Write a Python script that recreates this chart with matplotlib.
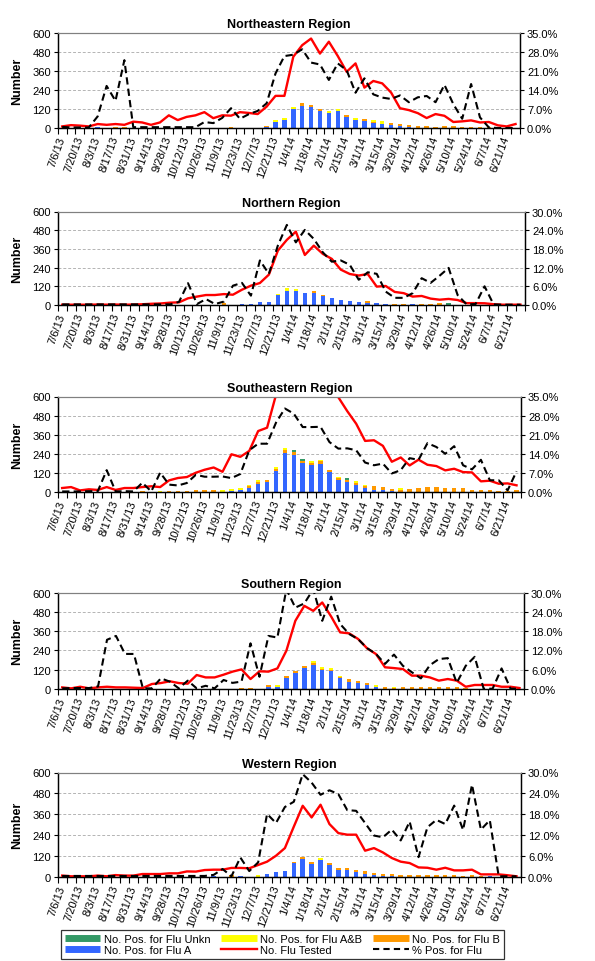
import numpy as np
import matplotlib
matplotlib.use("Agg")
import matplotlib.pyplot as plt
from matplotlib.lines import Line2D
from matplotlib.ticker import FuncFormatter

plt.rcParams['font.family'] = ['Liberation Sans', 'DejaVu Sans']

# week labels shown on the x axis (every second week, 52 weeks in all)
tick_labels = ["7/6/13", "7/20/13", "8/3/13", "8/17/13", "8/31/13", "9/14/13", "9/28/13",
               "10/12/13", "10/26/13", "11/9/13", "11/23/13", "12/7/13", "12/21/13",
               "1/4/14", "1/18/14", "2/1/14", "2/15/14", "3/1/14", "3/15/14", "3/29/14",
               "4/12/14", "4/26/14", "5/10/14", "5/24/14", "6/7/14", "6/21/14"]
n_weeks = 52

# Northeastern
ne_flu_a = [0, 0, 0, 0, 5, 0, 0, 0, 0, 0, 0, 0, 0, 0, 0, 0, 3, 3, 0, 0, 3, 3, 3, 5, 35,
            50, 120, 142, 131, 108, 94, 108, 69, 52, 46, 33, 27, 21, 12, 8, 0, 0, 0, 0, 0,
            0, 0, 0, 0, 0, 0, 0]
ne_flu_b = [0, 0, 0, 0, 0, 0, 6, 8, 0, 0, 0, 0, 0, 0, 0, 0, 0, 0, 0, 8, 0, 0, 0, 10, 0,
            0, 0, 15, 13, 12, 0, 0, 12, 0, 12, 8, 0, 12, 13, 11, 15, 13, 8, 12, 12,
            6, 5, 5, 4, 0, 0, 0]
ne_flu_ab = [0, 0, 0, 0, 0, 0, 0, 0, 0, 0, 0, 0, 0, 0, 0, 0, 0, 0, 0, 0, 0, 0, 0, 0, 15,
             12, 12, 0, 0, 0, 14, 12, 0, 13, 0, 9, 15, 0, 0, 0, 0, 0, 0, 0, 0,
             0, 0, 0, 0, 0, 0, 0]
ne_flu_unk = [0] * n_weeks
ne_tested = [10, 18, 15, 10, 25, 20, 25, 20, 40, 35, 20, 35, 80, 50, 70, 80, 100, 62, 80, 78,
             100, 95, 88, 135, 203, 203, 450, 523, 565, 470, 545, 455, 355, 408, 255, 297,
             282, 224, 125, 113, 94, 63, 88, 77, 38, 42, 48, 35, 38, 17, 10, 25]
ne_pct = [0.4, 0.2, 0.2, 0.2, 4.3, 15.5, 10, 25, 0.3, 0.3, 0.3, 0.3, 0.3, 0.3, 0.3, 0.3,
          2.2, 1.8, 3.7, 7.3, 3.4, 5.1, 6.3, 9.1, 20.1, 26.5, 27, 29, 24.1, 23.4, 17.7,
          23.8, 21.3, 13, 18.3, 12.4, 11.2, 10.7, 12, 9.5, 11.3, 11.8, 9.5, 15.9, 8.8,
          3.4, 16.2, 3.9, 0.2, 0, 0, 0]

# Northern
n_flu_a = [0, 0, 0, 0, 0, 0, 0, 0, 0, 0, 0, 0, 0, 0, 3, 0, 3, 0, 0, 3, 5, 5, 18, 18, 65,
           90, 90, 75, 80, 55, 45, 33, 27, 20, 15, 12, 5, 0, 0, 4, 0, 0, 0, 0, 0,
           0, 0, 0, 0, 0, 0, 0]
n_flu_b = [0, 0, 0, 0, 0, 0, 0, 0, 0, 0, 0, 0, 0, 0, 0, 0, 0, 0, 12, 0, 0, 0, 0, 0, 0,
           0, 0, 0, 8, 7, 0, 0, 0, 0, 10, 0, 0, 4, 4, 0, 4, 5, 10, 0, 3,
           0, 0, 0, 0, 0, 0, 0]
n_flu_ab = [0, 0, 0, 0, 0, 0, 0, 0, 0, 0, 0, 0, 0, 0, 0, 0, 0, 0, 0, 0, 0, 0, 0, 0, 7,
            18, 12, 0, 0, 0, 0, 0, 0, 0, 0, 0, 0, 0, 0, 0, 0, 0, 0, 0, 0,
            0, 0, 0, 0, 0, 0, 0]
n_flu_unk = [0, 0, 0, 0, 0, 0, 0, 0, 0, 0, 0, 0, 0, 0, 0, 0, 0, 0, 0, 0, 0, 0, 0, 0, 0,
             0, 0, 0, 0, 0, 0, 0, 0, 0, 0, 0, 0, 0, 0, 0, 0, 0, 0, 10, 0,
             0, 0, 0, 0, 0, 0, 0]
n_tested = [2, 2, 2, 2, 3, 2, 3, 2, 3, 5, 8, 10, 15, 17, 43, 54, 64, 64, 70, 66, 98, 124,
            141, 195, 349, 418, 471, 321, 381, 328, 296, 227, 199, 189, 199, 118, 122, 84,
            76, 54, 58, 41, 34, 39, 32, 12, 12, 11, 5, 2, 2, 2]
n_pct = [0.2, 0.2, 0.2, 0.2, 0.2, 0.2, 0.2, 0.2, 0.2, 0.2, 0.2, 0.2, 0.2, 1.0, 7, 0.3, 1.9,
         0.3, 1.1, 6.2, 7.1, 3, 14.3, 10, 19.1, 25.7, 20.1, 24.1, 21.2, 16.9, 13.9, 14.3,
         12.9, 8.1, 10.5, 10, 4.3, 2.3, 2.3, 3.8, 8.6, 7.1, 9.4, 11.9, 3.2, 0.2, 0.3, 6.0,
         0.2, 0.1, 0.1, 0.1]

# Southeastern
se_flu_a = [0, 0, 0, 0, 0, 0, 0, 0, 0, 0, 0, 0, 0, 0, 0, 0, 0, 0, 0, 5, 10, 27, 50, 63, 129,
            244, 235, 181, 169, 173, 123, 77, 62, 44, 25, 12, 12, 4, 0, 0, 0, 0, 3, 0, 0,
            0, 0, 0, 0, 0, 0, 0]
se_flu_b = [0, 0, 0, 0, 0, 3, 0, 0, 0, 5, 0, 0, 5, 5, 5, 10, 10, 10, 0, 0, 0, 8, 13, 12, 14,
            18, 15, 13, 12, 19, 14, 8, 13, 10, 10, 25, 19, 15, 15, 20, 25, 30, 29, 25, 22,
            25, 13, 12, 10, 5, 5, 12]
se_flu_ab = [0, 0, 0, 0, 0, 0, 0, 0, 0, 0, 0, 5, 0, 0, 0, 0, 0, 0, 10, 13, 12, 10, 12, 0, 13,
             13, 0, 0, 13, 12, 0, 9, 0, 13, 9, 0, 0, 0, 10, 0, 0, 0, 0, 0, 0,
             0, 0, 0, 0, 0, 0, 0]
se_flu_unk = [0, 0, 0, 0, 0, 0, 0, 0, 0, 0, 0, 0, 0, 0, 0, 0, 0, 0, 0, 0, 0, 0, 0, 0, 0,
              0, 15, 12, 0, 0, 0, 0, 12, 0, 0, 0, 0, 0, 0, 0, 0, 0, 0, 0, 0,
              0, 0, 0, 0, 0, 0, 0]
se_tested = [25, 31, 10, 17, 13, 31, 13, 25, 25, 31, 36, 31, 73, 88, 94, 121, 140, 154, 127,
             237, 221, 258, 383, 404, 610, 750, 850, 880, 840, 780, 700, 595, 508, 429, 321,
             325, 290, 190, 217, 167, 203, 171, 163, 136, 146, 125, 123, 67, 71, 52, 54, 42]
se_pct = [0.2, 0.2, 0.2, 0.3, 0.3, 8, 0.2, 0.3, 0.2, 3.4, 0.2, 7.1, 2.7, 2.4, 3.3, 6.3, 5.6,
          5.6, 5.7, 5.1, 6.6, 15.3, 17.7, 17.7, 25.4, 30.6, 28.7, 23.8, 23.8, 23.9, 18.3,
          15.9, 16, 15.3, 10.8, 9.8, 10.4, 6.8, 8, 12.4, 11.8, 17.9, 16.5, 14, 16.8, 9.8,
          8.3, 11.8, 4.3, 4.3, 0.6, 7.6]

# Southern
s_flu_a = [0, 0, 0, 0, 0, 0, 0, 0, 0, 0, 0, 0, 0, 0, 3, 0, 3, 0, 3, 3, 0, 0, 3, 10, 10,
           68, 100, 130, 150, 118, 114, 66, 42, 35, 25, 12, 0, 0, 0, 0, 0, 0, 0, 0, 0,
           0, 0, 0, 0, 0, 0, 0]
s_flu_b = [0, 0, 0, 0, 0, 0, 0, 0, 0, 0, 0, 3, 3, 0, 0, 0, 0, 0, 0, 0, 8, 8, 0, 12, 0,
           10, 10, 10, 10, 8, 7, 6, 20, 16, 10, 0, 10, 5, 10, 10, 10, 10, 10, 10, 10,
           5, 0, 0, 0, 0, 0, 0]
s_flu_ab = [0, 0, 0, 0, 0, 0, 0, 0, 0, 0, 0, 0, 0, 0, 0, 0, 0, 0, 0, 0, 0, 0, 0, 0, 12,
            0, 0, 0, 12, 8, 7, 7, 0, 0, 0, 12, 0, 10, 0, 0, 0, 0, 0, 0, 0,
            0, 0, 0, 0, 0, 0, 0]
s_flu_unk = [0] * n_weeks
s_tested = [10, 4, 14, 4, 10, 14, 10, 10, 8, 6, 31, 37, 48, 37, 33, 87, 72, 72, 89, 108, 122,
            62, 110, 108, 128, 238, 424, 517, 486, 538, 450, 352, 346, 311, 253, 217, 135,
            130, 124, 83, 83, 72, 52, 62, 52, 14, 25, 25, 25, 14, 14, 6]
s_pct = [0.2, 0.3, 0.3, 0.3, 0.8, 15.3, 16.5, 10.9, 10.9, 0.2, 0.2, 3.3, 2.3, 0.2, 2.6, 0.2,
         1, 0.2, 2.8, 1.9, 2.3, 14.2, 3.8, 16.5, 16, 31, 25.3, 26.6, 31, 21.2, 28.7, 20.2,
         17.1, 15.5, 12.7, 10.9, 7.8, 10.7, 7.2, 5.2, 3.3, 7.4, 9.3, 9.6, 1.9, 7.2, 10, 0.1,
         0.1, 6.4, 0.1, 0.1]

# Western
w_flu_a = [0, 0, 0, 0, 0, 0, 0, 0, 0, 0, 0, 0, 0, 0, 0, 0, 0, 3, 0, 0, 3, 0, 0, 18, 28,
           35, 80, 105, 75, 95, 70, 42, 42, 30, 19, 13, 6, 5, 0, 0, 0, 0, 0, 0, 0,
           0, 0, 0, 4, 0, 0, 0]
w_flu_b = [0, 0, 0, 0, 0, 0, 0, 0, 0, 0, 0, 0, 0, 0, 0, 0, 0, 0, 0, 10, 0, 0, 0, 0, 0,
           0, 8, 10, 10, 0, 8, 8, 8, 8, 13, 12, 13, 14, 10, 10, 10, 10, 10, 10, 10,
           5, 10, 4, 0, 0, 0, 0]
w_flu_ab = [0, 0, 0, 0, 0, 0, 0, 0, 0, 0, 0, 0, 0, 0, 0, 0, 0, 0, 0, 0, 0, 0, 10, 0, 0,
            0, 0, 0, 0, 13, 0, 0, 0, 0, 0, 0, 0, 0, 0, 0, 0, 0, 0, 0, 0,
            0, 0, 0, 0, 0, 0, 0]
w_flu_unk = [0] * n_weeks
w_tested = [8, 4, 4, 4, 8, 4, 11, 8, 8, 17, 17, 17, 21, 21, 32, 31, 40, 42, 42, 52, 52, 50,
            69, 88, 122, 166, 289, 409, 342, 415, 304, 252, 243, 243, 151, 166, 141, 109,
            88, 80, 55, 53, 42, 53, 38, 38, 42, 15, 15, 15, 10, 4]
w_pct = [0.3, 0.3, 0.3, 0.3, 0.3, 0.3, 0.3, 0.3, 0.3, 0.3, 0.3, 0.3, 0.3, 0.3, 0.3, 0.3, 0.3,
         0.6, 2.3, 0.2, 5.6, 1.7, 4.2, 18.1, 15.5, 20.1, 21.6, 29.5, 27.1, 23.6, 24.9, 23.8,
         19.2, 19.0, 15.5, 11.9, 11.4, 13.6, 10.5, 15.9, 5.7, 14.3, 16.4, 15.2, 20.5, 13.5,
         26.5, 13.6, 16.3, 0.2, 0.2, 0.2]

c_a = '#3366FF'
c_b = '#FF9900'
c_ab = '#FFFF00'
c_unk = '#339966'


def draw_panel(rect, title, flu_a, flu_b, flu_ab, flu_unk, tested, pct, pct_max):
    ax = fig.add_axes(rect)
    x = np.arange(n_weeks)
    a = np.array(flu_a)
    b = np.array(flu_b)
    ab = np.array(flu_ab)
    unk = np.array(flu_unk)
    w = 0.5
    ax.bar(x, a, w, color=c_a, zorder=2)
    ax.bar(x, b, w, bottom=a, color=c_b, zorder=2)
    ax.bar(x, ab, w, bottom=a + b, color=c_ab, zorder=2)
    ax.bar(x, unk, w, bottom=a + b + ab, color=c_unk, zorder=2)
    ax.plot(x, tested, color='#FF0000', lw=1.7, zorder=3)

    ax.set_xlim(-0.5, n_weeks - 0.5)
    ax.set_ylim(0, 600)
    ax.set_yticks(np.arange(0, 601, 120))
    ax.set_xticks(np.arange(0, n_weeks, 2))
    ax.set_xticklabels(tick_labels, rotation=70, ha='right', va='center',
                       rotation_mode='anchor', fontsize=8)
    ax.set_xticks(np.arange(-0.5, n_weeks, 1), minor=True)
    ax.tick_params(axis='x', which='major', length=0, pad=6)
    ax.tick_params(axis='x', which='minor', length=4, width=0.8, direction='out')
    ax.tick_params(axis='y', length=3, width=0.8, labelsize=8, pad=2)
    ax.yaxis.grid(True, color='#b4b4b4', linestyle=(0, (3, 2)), linewidth=0.7)
    ax.set_axisbelow(True)
    ax.set_ylabel('Number', fontsize=9, fontweight='bold')
    ax.yaxis.set_label_coords(-0.075, 0.5)
    ax.set_title(title, fontsize=9, fontweight='bold', pad=4)

    ax2 = ax.twinx()
    ax2.plot(x, pct, color='black', lw=1.5, linestyle=(0, (3.5, 2)), zorder=4)
    ax2.set_ylim(0, pct_max)
    ax2.set_yticks(np.linspace(0, pct_max, 6))
    ax2.yaxis.set_major_formatter(FuncFormatter(lambda v, p: f'{v:.1f}%'))
    ax2.tick_params(axis='y', length=3, width=0.8, labelsize=8, pad=2)

    for a_ in (ax, ax2):
        a_.spines['top'].set_color('#808080')
        for s in ('left', 'right', 'bottom'):
            a_.spines[s].set_linewidth(0.9)
    return ax


fig = plt.figure(figsize=(5.95, 9.62), dpi=100)

W, H = 595.0, 962.0


def rect(left, right, top, bottom):
    return [left / W, 1 - bottom / H, (right - left) / W, (bottom - top) / H]


draw_panel(rect(57.7, 520, 34, 129), 'Northeastern Region',
           ne_flu_a, ne_flu_b, ne_flu_ab, ne_flu_unk, ne_tested, ne_pct, 35)
draw_panel(rect(57.7, 525, 212.5, 306), 'Northern Region',
           n_flu_a, n_flu_b, n_flu_ab, n_flu_unk, n_tested, n_pct, 30)
draw_panel(rect(57.7, 521, 397.5, 493), 'Southeastern Region',
           se_flu_a, se_flu_b, se_flu_ab, se_flu_unk, se_tested, se_pct, 35)
draw_panel(rect(57.7, 524, 593.5, 690), 'Southern Region',
           s_flu_a, s_flu_b, s_flu_ab, s_flu_unk, s_tested, s_pct, 30)
draw_panel(rect(57.7, 521, 773.5, 878), 'Western Region',
           w_flu_a, w_flu_b, w_flu_ab, w_flu_unk, w_tested, w_pct, 30)

# legend (matplotlib fills columns first)
h_unk = Line2D([], [], color=c_unk, lw=5, solid_capstyle='butt')
h_a = Line2D([], [], color=c_a, lw=5, solid_capstyle='butt')
h_ab = Line2D([], [], color=c_ab, lw=5, solid_capstyle='butt')
h_test = Line2D([], [], color='#FF0000', lw=1.7)
h_b = Line2D([], [], color=c_b, lw=5, solid_capstyle='butt')
h_pct = Line2D([], [], color='black', lw=1.5, linestyle=(0, (3, 2)))
handles = [h_unk, h_a, h_ab, h_test, h_b, h_pct]
labels = ['No. Pos. for Flu Unkn', 'No. Pos. for Flu A', 'No. Pos. for Flu A&B',
          'No. Flu Tested', 'No. Pos. for Flu B', '% Pos. for Flu']
leg = fig.legend(handles, labels, ncol=3, loc='center',
                 bbox_to_anchor=(282.5 / W, 1 - 945.5 / H), fontsize=8,
                 frameon=True, fancybox=False, edgecolor='black', handlelength=3.2,
                 handletextpad=0.3, columnspacing=1.0, labelspacing=0.15, borderpad=0.35)
leg.get_frame().set_linewidth(0.9)

fig.savefig('out.png', dpi=100)
